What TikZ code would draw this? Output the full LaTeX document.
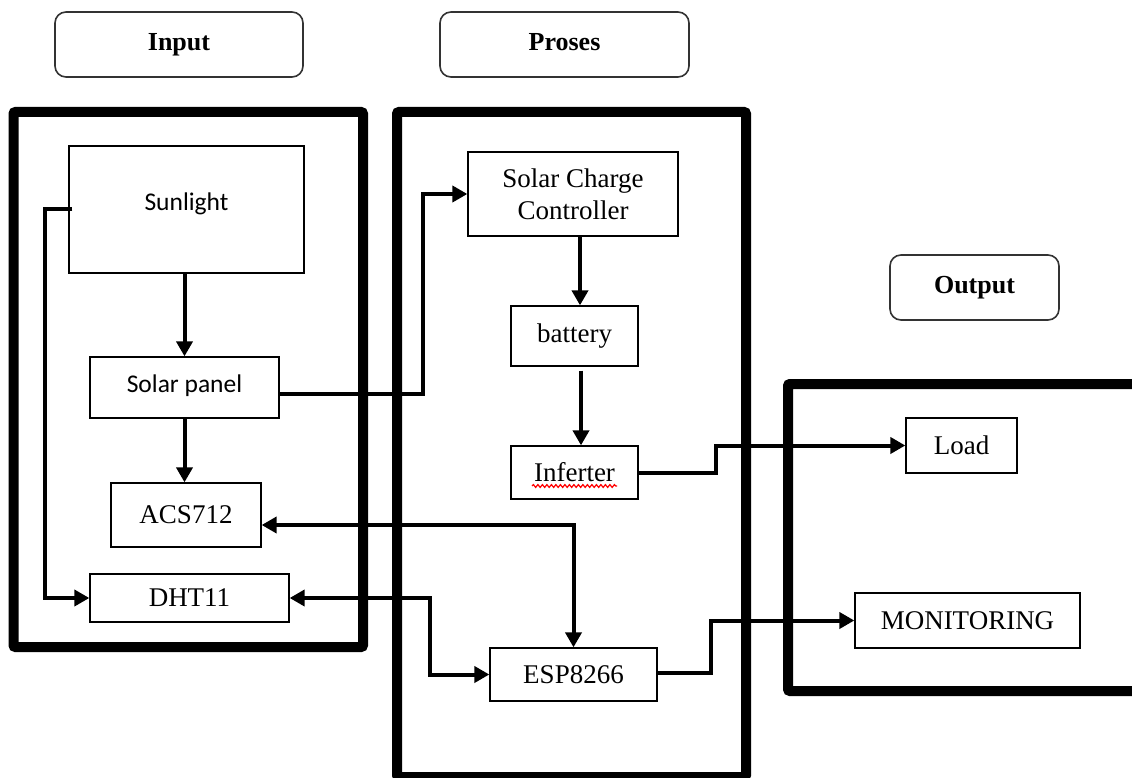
\documentclass[tikz,border=0pt]{standalone}
\usepackage{fontspec}
\setmainfont{Liberation Serif}
\newfontfamily\calfont{Carlito}
\usetikzlibrary{arrows.meta,decorations.pathmorphing}
\begin{document}
\begin{tikzpicture}[x=1pt,y=-1pt,
  frame/.style={line width=10pt,rounded corners=2pt},
  box/.style={draw,line width=1.3pt,fill=white,inner sep=0pt,
    font=\fontsize{27}{32}\selectfont,align=center},
  sbox/.style={box,font=\calfont\fontsize{25.5}{30}\selectfont},
  lbl/.style={draw=black!80,line width=1.6pt,rounded corners=11pt,inner sep=0pt,
    font=\bfseries\fontsize{26}{30}\selectfont,text height=18pt,text depth=6pt},
  conn/.style={line width=4pt},
  arr/.style={conn,-{Triangle[length=15pt,width=16pt]}},
  darr/.style={conn,{Triangle[length=15pt,width=16pt]}-{Triangle[length=15pt,width=16pt]}}]
\useasboundingbox (0,0) rectangle (1132,778);

% header labels
\node[lbl,minimum width=248pt,minimum height=65pt] (linput) at (179,44.5) {Input};
\node[lbl,minimum width=249pt,minimum height=65pt] (lproses) at (564.5,44.5) {Proses};
\node[lbl,minimum width=169pt,minimum height=65pt] (loutput) at (974.5,287.5) {Output};

% frames
\draw[frame] (13.5,112) rectangle (363,647);
\draw[frame] (397,112) rectangle (746,777);
\draw[frame] (788,384) rectangle (1145,691);

% input boxes
\node[sbox,minimum width=235pt,minimum height=127pt] (sun) at (186.5,209.5) {\raisebox{15pt}{Sunlight}};
\node[sbox,minimum width=189pt,minimum height=61pt] (sp) at (184.5,387.5) {\raisebox{8pt}{Solar panel}};
\node[box,minimum width=150pt,minimum height=64pt] (acs) at (186,515) {ACS712};
\node[box,minimum width=199pt,minimum height=48pt] (dht) at (189.5,598) {DHT11};

% process boxes
\node[box,minimum width=210pt,minimum height=84pt] (scc) at (573,194) {Solar Charge\\Controller};
\node[box,minimum width=127pt,minimum height=60pt] (bat) at (574.5,336) {battery};
\node[box,minimum width=127pt,minimum height=53pt] (inf) at (574.5,472.5) {\raisebox{2pt}{Inferter}};
\node[box,minimum width=167pt,minimum height=53pt] (esp) at (573.5,674.5) {ESP8266};

% output boxes
\node[box,minimum width=111pt,minimum height=55pt] (load) at (961.5,445.5) {Load};
\node[box,minimum width=225pt,minimum height=55pt] (mon) at (967.5,620.5) {MONITORING};

% spell-check squiggle under Inferter
\draw[red,line width=1.2pt,decorate,decoration={snake,amplitude=1.4pt,segment length=4.5pt}] (532,486) -- (617,486);

% helper coordinates
\coordinate (lx) at (45,0);
\coordinate (spx) at (423,0);
\coordinate (infx) at (716,0);
\coordinate (dhtx) at (430,0);
\coordinate (espx) at (711,0);
\coordinate (sccx) at (580,0);
\coordinate (batx) at (581,0);
\coordinate (sunW) at ([xshift=4pt]sun.west);
\coordinate (spE) at ([yshift=-6.5pt]sp.east);
\coordinate (acsE) at ([yshift=-10pt]acs.east);
\coordinate (espE) at ([yshift=2pt]esp.east);
\coordinate (batS) at ([yshift=-4pt]bat.south);

% connectors
\draw[arr] (sp.north |- sun.south) -- (sp.north);
\draw[arr] (sp.south) -- (sp.south |- acs.north);
\draw[arr] (sunW) -- (lx |- sunW) -- (lx |- dht.west) -- (dht.west);
\draw[arr] (spE) -- (spx |- spE) -- (spx |- scc.west) -- (scc.west);
\draw[arr] (sccx |- scc.south) -- (sccx |- bat.north);
\draw[arr] (batx |- batS) -- (batx |- inf.north);
\draw[arr] (inf.east) -- (infx |- inf.east) -- (infx |- load.west) -- (load.west);
\draw[darr] (acsE) -| (esp.north);
\draw[darr] (dht.east) -- (dhtx |- dht.east) -- (dhtx |- esp.west) -- (esp.west);
\draw[arr] (espE) -- (espx |- espE) -- (espx |- mon.west) -- (mon.west);
\end{tikzpicture}
\end{document}
